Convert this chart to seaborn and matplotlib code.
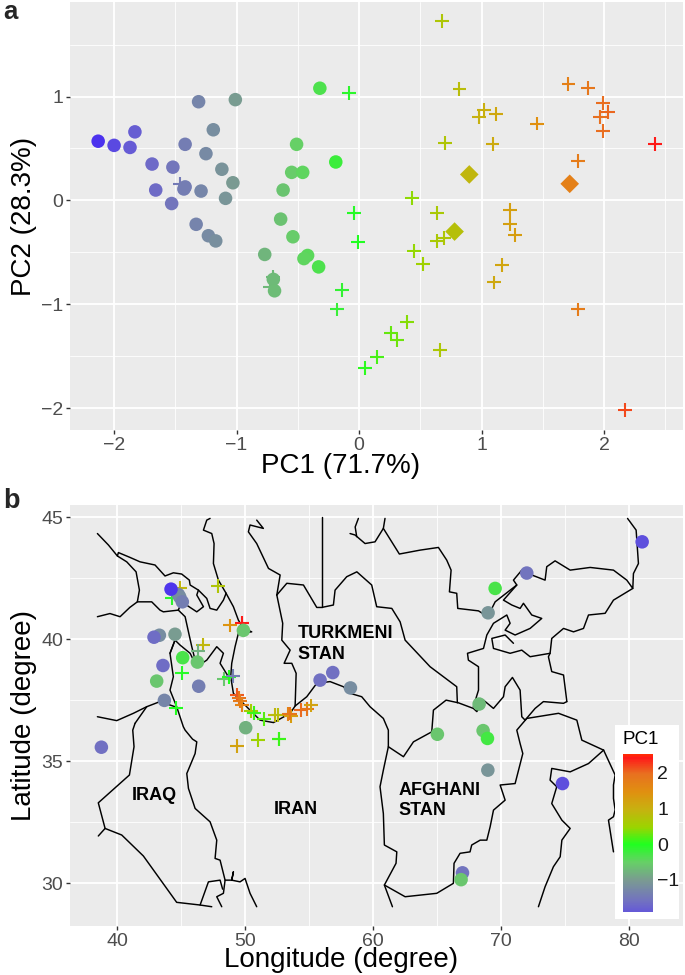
import pandas as pd
import matplotlib
matplotlib.use('Agg')
import matplotlib.pyplot as plt
import seaborn as sns
from matplotlib.cm import ScalarMappable
from matplotlib.colors import LinearSegmentedColormap, Normalize
from matplotlib.patches import Rectangle

# panel a, circles
pca_circle_x = [-2.13, -2.0, -1.87, -1.83, -1.69, -1.52, -1.66, -1.53, -1.42, -1.31, -1.19, -1.01, -1.25, -1.12,
                -1.03, -1.09, -1.29, -1.42, -1.43, -1.33, -1.23, -1.17, -0.32, -0.51, -0.19, -0.55, -0.46, -0.62,
                -0.64, -0.54, -0.77, -0.42, -0.45, -0.33, -0.70, -0.69]
pca_circle_y = [0.57, 0.53, 0.51, 0.66, 0.35, 0.32, 0.10, -0.03, 0.54, 0.95, 0.68, 0.97, 0.45, 0.30,
                0.17, 0.02, 0.09, 0.13, 0.11, -0.23, -0.34, -0.39, 1.08, 0.54, 0.37, 0.27, 0.27, 0.10,
                -0.18, -0.35, -0.52, -0.53, -0.56, -0.64, -0.76, -0.87]

# panel a, plus signs
pca_plus_x = [-1.46, -0.73, -0.70, -0.01, -0.14, -0.18, 0.39, 0.26, 0.31, 0.66, 0.15, 0.05, 1.79, 2.17, 1.10, 1.17,
              0.45, 0.52, 0.64, 0.69, 0.68, 0.82, 1.02, 0.98, 1.12, 1.45, 0.70, 1.09, 1.71, 1.87, 1.99, 2.03,
              1.97, 1.99, 2.42, 1.79, -0.08, 0.43, -0.04, 0.64, 1.23, 1.23, 1.27]
pca_plus_y = [0.16, -0.83, -0.74, -0.40, -0.86, -1.05, -1.17, -1.28, -1.34, -1.44, -1.51, -1.61, -1.05, -2.02, -0.79,
              -0.62, -0.49, -0.61, -0.39, -0.36, 1.73, 1.07, 0.87, 0.80, 0.83, 0.74, 0.55, 0.54, 1.12, 1.08, 0.94,
              0.85, 0.80, 0.67, 0.54, 0.38, 1.03, 0.02, -0.12, -0.12, -0.09, -0.23, -0.33]

# panel a, diamonds
pca_diamond_x = [0.90, 0.78, 1.72]
pca_diamond_y = [0.25, -0.30, 0.16]

# panel b, circles
site_circle_lon = [44.79, 44.90, 45.10, 44.22, 43.31, 42.89, 44.53, 45.13, 46.28, 43.59, 43.10, 46.38, 43.70, 49.87,
                   55.86, 56.85, 58.23, 50.05, 38.78, 81.01, 72.00, 69.53, 68.98, 68.28, 65.02, 68.59, 68.93,
                   68.96, 74.79, 66.98, 66.87]
site_circle_lat = [41.83, 41.73, 41.53, 42.05, 40.16, 40.08, 40.20, 39.24, 39.06, 38.92, 38.28, 38.07, 37.49, 40.36,
                   38.32, 38.63, 38.00, 36.37, 35.57, 43.99, 42.71, 42.08, 41.08, 37.34, 36.10, 36.25, 35.93,
                   34.63, 34.08, 30.42, 30.14]
site_circle_pc1 = [-1.3, -1.2, -1.4, -2.1, -1.2, -1.65, -1.0, -0.3, -0.6, -1.65, -0.6, -1.4, -1.3, -0.6,
                   -1.6, -1.6, -1.2, -0.8, -1.6, -1.95, -1.55, -0.3, -1.1, -0.7, -0.6, -0.6, -0.25,
                   -1.1, -1.95, -1.55, -0.6]

# panel b, plus signs
site_plus_lon = [47.86, 44.90, 44.27, 46.74, 46.35, 45.08, 48.36, 48.78, 49.04, 48.83, 49.77, 44.58, 49.35, 49.53,
                 49.60, 49.74, 50.44, 50.70, 51.48, 52.34, 52.60, 53.39, 53.57, 53.52, 54.35, 54.82, 55.13,
                 49.35, 51.02, 52.68, 52.66]
site_plus_lat = [42.17, 42.08, 41.68, 39.78, 39.52, 38.61, 38.35, 38.46, 38.50, 40.56, 40.66, 37.19, 37.70, 37.57,
                 37.46, 37.30, 37.06, 36.98, 36.73, 36.89, 36.90, 36.93, 36.84, 36.95, 37.09, 37.14, 37.28,
                 35.63, 35.85, 35.89, 35.92]
site_plus_pc1 = [0.7, 0.9, -0.1, 0.9, -0.8, -0.05, -0.6, 0.0, -1.4, 1.4, 2.42, 0.0, 2.1, 1.9,
                 1.8, 1.7, 0.6, 0.1, 0.2, 0.9, 0.8, 1.7, 1.3, 1.9, 2.0, 1.9, 1.2,
                 1.2, 0.5, 0.1, 0.1]

# country outlines as (lon, lat)
russia_south = [(38.47, 44.33), (39.33, 43.86), (40.03, 43.41), (40.11, 43.55), (41.02, 43.35), (41.80, 43.17),
                (42.97, 43.04), (43.75, 42.59), (44.40, 42.72), (45.05, 42.67), (45.65, 42.42), (45.71, 42.22),
                (46.36, 42.01), (47.01, 41.67), (47.27, 41.26), (47.79, 41.19), (48.31, 41.60), (48.52, 41.88)]
caspian_nw = [(48.52, 41.88), (47.92, 42.42), (47.53, 43.10), (47.58, 43.92), (47.40, 44.33), (46.75, 44.47),
              (47.01, 44.88), (47.27, 44.95)]
iran_north = [(48.52, 41.88), (49.09, 41.33), (49.48, 40.78), (49.87, 40.44), (50.52, 40.30), (49.48, 40.24),
              (49.22, 39.69), (48.96, 39.01), (48.88, 38.46), (49.09, 37.78), (49.61, 37.50), (50.39, 37.09),
              (51.17, 36.68), (52.22, 36.58), (53.52, 36.96), (53.91, 37.26), (54.82, 37.64), (55.60, 38.19),
              (56.64, 38.26), (57.68, 38.05), (58.20, 37.78), (59.11, 37.64), (59.76, 37.23), (60.80, 36.75),
              (61.19, 36.27), (61.19, 35.59), (60.80, 34.63), (60.54, 33.95), (60.80, 32.85), (60.88, 31.56),
              (61.85, 31.28), (61.79, 30.81), (60.88, 29.92), (61.51, 29.03)]
afghan_south = [(60.88, 29.92), (62.50, 29.44), (64.97, 29.58), (66.27, 29.99), (66.32, 30.81), (66.79, 31.22),
                (67.57, 31.28), (67.70, 31.56), (68.36, 31.76), (68.88, 31.76), (69.14, 32.31), (69.40, 32.99),
                (70.31, 33.40), (69.92, 34.02), (71.09, 34.08), (71.69, 35.31), (71.48, 35.72), (71.22, 36.27),
                (72.00, 36.75), (74.48, 36.96), (75.91, 36.68), (76.30, 35.86), (78.00, 35.45)]
afghan_north = [(61.19, 35.59), (62.37, 35.18), (63.15, 35.79), (64.58, 36.20), (64.71, 37.09), (65.70, 37.50),
                (66.66, 37.39), (67.83, 37.16), (68.10, 37.03), (68.62, 37.50), (69.40, 37.16), (70.18, 37.64),
                (70.31, 38.05), (70.88, 38.43), (71.48, 37.91), (71.61, 36.82), (71.87, 36.68), (72.65, 37.16),
                (73.30, 37.44), (74.87, 37.37), (75.13, 37.44)]
india_pakistan = [(78.00, 35.45), (76.82, 34.90), (75.39, 34.56), (73.95, 34.70), (73.82, 34.22), (74.34, 33.95),
                  (73.95, 33.26), (74.74, 32.58), (75.39, 32.24), (74.74, 31.76), (74.61, 31.08), (74.08, 30.67),
                  (73.43, 29.85), (72.91, 29.03)]
india_china = [(78.00, 35.45), (78.90, 34.43), (78.77, 34.02), (78.77, 33.47), (78.90, 33.00), (78.77, 32.72),
               (78.38, 32.58), (78.77, 31.28)]
kazakh_south = [(60.93, 44.95), (60.80, 44.54), (62.05, 43.49), (63.67, 43.65), (65.10, 43.76), (65.75, 43.24),
                (66.09, 42.83), (65.96, 41.94), (66.53, 41.88), (66.61, 41.26), (68.23, 41.16), (68.95, 40.92),
                (69.53, 41.53), (71.22, 42.22), (70.96, 42.42), (71.61, 42.83), (72.00, 42.71), (73.43, 42.42),
                (73.56, 42.97), (74.21, 43.21), (75.39, 42.83), (76.95, 42.94), (78.77, 42.83), (79.81, 42.42),
                (80.28, 42.08), (80.33, 42.69), (80.72, 43.10), (80.54, 44.47), (79.87, 44.95)]
kyrgyz_south = [(80.28, 42.08), (78.77, 41.60), (78.12, 41.06), (76.82, 40.99), (76.43, 40.44), (75.65, 40.30),
                (74.87, 40.44), (73.95, 40.03), (73.82, 39.42), (72.26, 39.28), (71.61, 39.55), (70.70, 39.42),
                (69.40, 39.62), (69.27, 40.03), (70.31, 40.17), (70.96, 39.83)]
fergana = [(71.22, 42.22), (70.18, 41.60), (70.83, 41.40), (71.48, 41.26), (71.74, 41.47), (72.39, 40.99),
           (73.17, 40.85), (72.26, 40.44), (71.09, 40.17), (70.31, 40.37), (70.70, 40.65), (70.44, 40.99),
           (69.40, 40.65), (68.88, 40.17), (68.62, 39.62), (67.37, 39.42), (67.44, 39.14), (68.23, 38.87),
           (68.23, 37.91), (67.83, 37.23)]
tajik_south = [(73.82, 39.42), (73.69, 39.28), (73.95, 38.67), (74.87, 38.53), (75.13, 37.44)]
turkmen_north = [(52.48, 41.81), (53.26, 42.29), (54.56, 42.22), (55.60, 41.30), (55.99, 41.30), (56.90, 41.40),
                 (57.03, 42.01), (57.94, 42.56), (58.73, 42.76), (59.89, 42.22), (60.28, 41.33), (61.46, 41.26),
                 (62.11, 40.71), (62.50, 39.96), (64.45, 38.87), (66.53, 38.05), (66.58, 37.39)]
kazakh_west = [(55.99, 45.02), (55.99, 41.30)]
caspian_ne = [(52.48, 41.81), (52.74, 42.63), (51.83, 42.90), (50.91, 43.92), (50.26, 44.40), (50.39, 44.68),
              (51.43, 44.54), (50.91, 44.88)]
caspian_east = [(52.48, 41.81), (52.94, 40.65), (52.87, 39.96), (53.52, 39.55), (53.05, 39.01), (53.65, 39.01),
                (53.99, 38.60), (53.91, 37.26)]
aral = [(60.80, 44.54), (60.15, 43.99), (59.37, 43.92), (58.59, 44.27), (58.20, 44.33)]
aral_shore = [(58.85, 44.95), (58.60, 44.60), (58.72, 44.20)]
georgia_coast = [(40.03, 43.41), (40.76, 43.17), (41.49, 42.76), (41.75, 42.01), (41.59, 41.53)]
turkey_north = [(38.47, 40.92), (39.45, 41.05), (40.24, 40.92), (41.00, 41.30), (41.59, 41.53), (42.71, 41.53),
                (43.36, 41.19), (43.62, 41.12), (44.79, 41.19), (45.32, 40.92), (45.58, 40.30), (45.84, 39.69),
                (46.23, 38.87)]
azeri_north = [(44.79, 41.19), (45.05, 41.53), (46.23, 41.12), (46.75, 41.33), (46.23, 41.81), (46.36, 42.01)]
iran_azeri = [(44.14, 39.42), (44.53, 39.96), (44.92, 39.76), (45.71, 39.42), (46.23, 38.87), (47.01, 39.14),
              (47.79, 39.69), (48.31, 39.42), (48.05, 39.01), (48.70, 38.46)]
iran_west = [(44.53, 39.96), (44.14, 39.42), (44.40, 38.46), (44.14, 37.91), (44.66, 37.23), (45.18, 36.41),
             (45.32, 36.27), (45.90, 35.90), (46.23, 35.79), (46.10, 35.31), (45.45, 34.49), (45.58, 33.88),
             (46.10, 33.06), (47.27, 32.51), (47.79, 31.76), (47.66, 31.01), (48.05, 30.94), (48.44, 30.12),
             (48.31, 29.58), (47.79, 29.44), (48.18, 29.03)]
gulf_coast = [(48.44, 30.12), (48.96, 30.12), (49.09, 30.46), (48.96, 30.12), (49.61, 30.05), (50.00, 30.19),
              (50.39, 29.58), (50.91, 29.03)]
iraq_west = [(41.41, 36.55), (41.23, 36.27), (41.33, 35.59), (40.97, 34.43), (38.54, 33.29), (39.07, 32.24),
             (38.54, 31.93)]
iraq_south = [(39.07, 32.24), (40.37, 31.97), (42.06, 31.11), (44.66, 29.21), (46.49, 29.10), (47.40, 29.03)]
kuwait = [(46.49, 29.10), (47.14, 30.05), (48.05, 30.12), (48.25, 29.75)]
turkey_south = [(38.47, 36.82), (39.98, 36.66), (41.28, 36.96), (42.32, 37.23), (43.36, 37.44), (44.53, 37.23)]
syria_east = [(41.41, 36.55), (42.32, 37.23)]

border_lines = [russia_south, caspian_nw, iran_north, afghan_south, afghan_north, india_pakistan, india_china,
                kazakh_south, kyrgyz_south, fergana, tajik_south, turkmen_north, kazakh_west, caspian_ne,
                caspian_east, aral, aral_shore, georgia_coast, turkey_north, azeri_north, iran_azeri, iran_west,
                gulf_coast, iraq_west, iraq_south, kuwait, turkey_south, syria_east]

country_names = ['IRAQ', 'IRAN', 'TURKMENI\nSTAN', 'AFGHANI\nSTAN']
country_lon = [42.92, 53.99, 54.09, 61.98]
country_lat = [33.58, 33.03, 39.80, 33.38]
country_align = ['center', 'center', 'left', 'left']

pc1_ticks = [-1, 0, 1, 2]

W, H = 685, 975
GREY = '#EBEBEB'

sns.set_theme(style='darkgrid', rc={'axes.facecolor': GREY, 'grid.color': 'white', 'axes.axisbelow': True})
plt.rcParams['font.family'] = ['Liberation Sans', 'DejaVu Sans']

pc1_cmap = LinearSegmentedColormap.from_list('pc1', [
    (0.0, '#4a2ff0'), (0.05, '#6458d8'), (0.12, '#7272c0'), (0.24, '#7a9a92'), (0.35, '#66d066'),
    (0.457, '#20ff20'), (0.56, '#9cd400'), (0.67, '#c8b010'), (0.77, '#e09010'), (0.88, '#e87020'),
    (0.975, '#ff1818'), (1.0, '#ff3000')])
pc1_norm = Normalize(-2.15, 2.55)


def box(left, top, right, bottom):
    return [left / W, 1 - bottom / H, (right - left) / W, (bottom - top) / H]


def style_axes(ax, xticks, yticks, xminor, yminor, xlabel, ylabel):
    ax.set_xticks(xticks)
    ax.set_yticks(yticks)
    ax.set_xticks(xminor, minor=True)
    ax.set_yticks(yminor, minor=True)
    ax.grid(which='major', color='white', lw=1.3)
    ax.grid(which='minor', color='white', lw=0.6)
    ax.tick_params(which='major', length=3, width=1, color='#333333', labelcolor='#4d4d4d', labelsize=14, pad=2,
                   bottom=True, left=True)
    ax.tick_params(which='minor', length=0)
    for s in ax.spines.values():
        s.set_visible(False)
    ax.set_xlabel(xlabel, fontsize=20, color='black')
    ax.set_ylabel(ylabel, fontsize=20, color='black')


def draw_points(ax, x, y, values, marker, size, lw):
    df = pd.DataFrame({'x': x, 'y': y, 'pc1': values})
    sns.scatterplot(data=df, x='x', y='y', hue='pc1', palette=pc1_cmap, hue_norm=pc1_norm, marker=marker, s=size,
                    linewidth=lw, legend=False, ax=ax, zorder=3, clip_on=False)


fig = plt.figure(figsize=(W / 100, H / 100), dpi=100)

# panel a
ax1 = fig.add_axes(box(70, 2, 683, 430))
draw_points(ax1, pca_plus_x, pca_plus_y, pca_plus_x, '+', 100, 1.5)
draw_points(ax1, pca_circle_x, pca_circle_y, pca_circle_x, 'o', 95, 0)
draw_points(ax1, pca_diamond_x, pca_diamond_y, pca_diamond_x, 'D', 90, 0)
ax1.set_xlim(-2.36, 2.645)
ax1.set_ylim(-2.21, 1.91)
style_axes(ax1, [-2, -1, 0, 1, 2], [-2, -1, 0, 1], [-1.5, -0.5, 0.5, 1.5, 2.5], [-1.5, -0.5, 0.5, 1.5],
           'PC1 (71.7%)', 'PC2 (28.3%)')
ax1.xaxis.set_label_coords((341 - 70) / 613, -0.053)
ax1.yaxis.set_label_coords(-0.054, 0.5)

# panel b
ax2 = fig.add_axes(box(70, 505, 683, 926))
for line in border_lines:
    ax2.plot([p[0] for p in line], [p[1] for p in line], color='black', lw=1.05, zorder=2)
draw_points(ax2, site_plus_lon, site_plus_lat, site_plus_pc1, '+', 100, 1.5)
draw_points(ax2, site_circle_lon, site_circle_lat, site_circle_pc1, 'o', 95, 0)
ax2.set_xlim(36.33, 84.2)
ax2.set_ylim(28.24, 45.5)
style_axes(ax2, [40, 50, 60, 70, 80], [30, 35, 40, 45], [45, 55, 65, 75], [32.5, 37.5, 42.5],
           'Longitude (degree)', 'Latitude (degree)')
ax2.xaxis.set_label_coords((341 - 70) / 613, -0.05)
ax2.yaxis.set_label_coords(-0.054, 0.5)
for name, lon, lat, ha in zip(country_names, country_lon, country_lat, country_align):
    ax2.text(lon, lat, name, fontsize=13, fontweight='bold', ha=ha, va='center', color='black', linespacing=1.25,
             zorder=4)

# colour legend on top of the map
ax2.add_patch(Rectangle((615 / W, 1 - 919 / H), 64 / W, 194 / H, transform=fig.transFigure, facecolor='white',
                        edgecolor='none', zorder=6, clip_on=False))
cax = fig.add_axes(box(623, 754, 653, 912))
cax.set_zorder(8)
cb = fig.colorbar(ScalarMappable(norm=pc1_norm, cmap=pc1_cmap), cax=cax, ticks=pc1_ticks)
cax.set_ylim(-1.9, 2.53)
cb.outline.set_visible(False)
cax.set_yticklabels(['\u22121', '0', '1', '2'])
cax.tick_params(axis='y', direction='in', color='white', width=1, length=6, left=True, right=True, labelright=True,
                labelsize=14, labelcolor='#1a1a1a', pad=3)
cax.grid(False)
fig.text(623 / W, 1 - 740 / H, 'PC1', fontsize=13.5, color='black', va='center', ha='left', zorder=9)

fig.text(3 / W, 1 - 19 / H, 'a', fontsize=18.5, fontweight='bold', va='baseline', ha='left')
fig.text(3 / W, 1 - 508 / H, 'b', fontsize=19.5, fontweight='bold', va='baseline', ha='left')

fig.savefig('out.png', dpi=100)
